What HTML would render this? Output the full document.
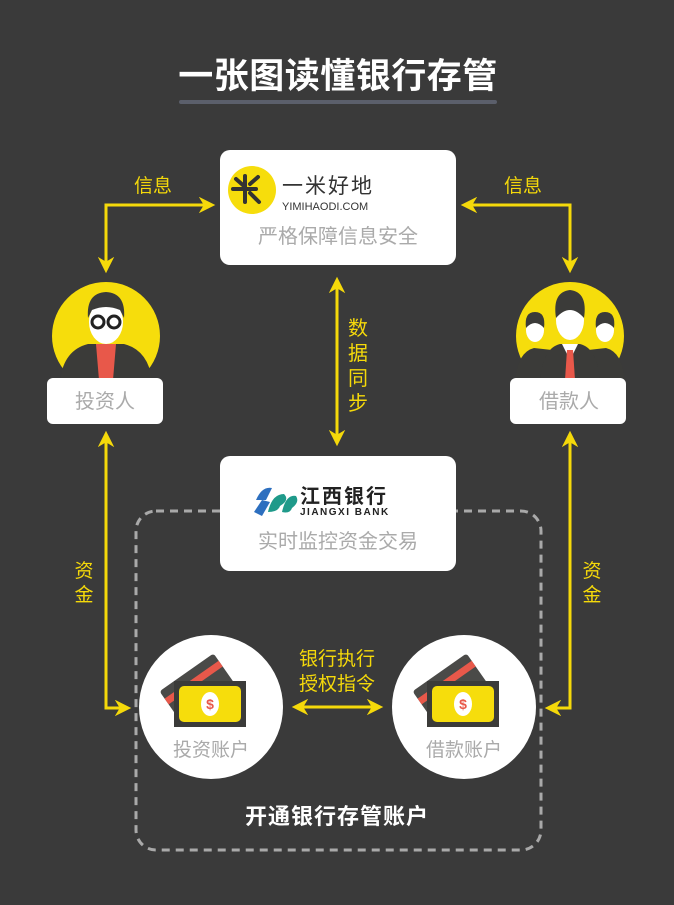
<!DOCTYPE html>
<html><head><meta charset="utf-8"><style>
html,body{margin:0;padding:0;background:#3a3a3a;}
body{width:674px;height:905px;overflow:hidden;position:relative;font-family:"Liberation Sans","Noto Sans CJK SC",sans-serif;}
svg{position:absolute;left:0;top:0}
text{font-family:"Liberation Sans","Noto Sans CJK SC",sans-serif}
</style></head><body>
<svg width="674" height="905" viewBox="0 0 674 905">
<defs>
<marker id="ah" viewBox="0 0 10 10" refX="8" refY="5" markerWidth="5.5" markerHeight="5.5" orient="auto-start-reverse">
<path d="M0,0 L10,5 L0,10 L3,5 Z" fill="#f5d90a"/></marker>
<g id="card">
<g transform="rotate(-35)">
<rect x="-40" y="-24" width="66" height="42" rx="3" fill="#4a4a48"/>
<rect x="-40" y="-15" width="66" height="7" fill="#e8584a"/>
</g>
<rect x="-32" y="-7" width="72" height="46" fill="#3b3b39"/>
<rect x="-27" y="-2" width="62" height="36" rx="5" fill="#f6dd0c"/>
<ellipse cx="4" cy="16" rx="9" ry="12" fill="#fff"/>
<text x="4" y="21" font-size="14" font-weight="bold" fill="#e8584a" text-anchor="middle">$</text>
</g>
</defs>

<text x="338" y="88" font-size="35" font-weight="bold" fill="#fff" text-anchor="middle" letter-spacing="0.5">一张图读懂银行存管</text>
<rect x="179" y="100" width="318" height="4" rx="2" fill="#5b5f6b"/>

<rect x="136" y="511" width="405" height="339" rx="20" fill="none" stroke="#a9a9a9" stroke-width="3" stroke-dasharray="8 6"/>

<rect x="220" y="150" width="236" height="115" rx="10" fill="#fff"/>
<circle cx="252" cy="190" r="24" fill="#f6dd0c"/>
<g stroke="#333" stroke-width="4" stroke-linecap="round">
<line x1="245" y1="176" x2="245" y2="202"/>
<line x1="233" y1="189" x2="256" y2="189"/>
<line x1="236" y1="179" x2="244" y2="186"/>
<line x1="250" y1="193" x2="259" y2="202"/>
<line x1="250" y1="184" x2="258" y2="177"/>
</g>
<text x="282" y="193" font-size="21" fill="#333" letter-spacing="2">一米好地</text>
<text x="282" y="210" font-size="11" fill="#333">YIMIHAODI.COM</text>
<text x="338" y="243" font-size="20" fill="#aaa" text-anchor="middle">严格保障信息安全</text>

<polyline points="106,270 106,205 212,205" fill="none" stroke="#f5d90a" stroke-width="3" marker-start="url(#ah)" marker-end="url(#ah)"/>
<polyline points="570,270 570,205 464,205" fill="none" stroke="#f5d90a" stroke-width="3" marker-start="url(#ah)" marker-end="url(#ah)"/>
<text x="153" y="192" font-size="19" fill="#f5d90a" text-anchor="middle">信息</text>
<text x="523" y="192" font-size="19" fill="#f5d90a" text-anchor="middle">信息</text>

<!-- investor -->
<circle cx="106" cy="336" r="54" fill="#f6dd0c"/>
<path d="M60,380 Q64,350 88,344 L124,344 Q148,350 152,380 Z" fill="#3b3b39"/>
<path d="M96,344 L116,344 L113,380 L99,380 Z" fill="#e8584a"/>
<ellipse cx="106" cy="322" rx="17" ry="22" fill="#fff"/>
<path d="M88,318 Q86,293 106,292 Q126,293 124,318 L120,310 Q106,304 92,310 Z" fill="#3b3b39"/>
<circle cx="98" cy="322" r="6" fill="none" stroke="#222" stroke-width="3"/>
<circle cx="114" cy="322" r="6" fill="none" stroke="#222" stroke-width="3"/>
<rect x="47" y="378" width="116" height="46" rx="6" fill="#fff"/>
<text x="105" y="408" font-size="20" fill="#aaa" text-anchor="middle">投资人</text>

<!-- borrower -->
<circle cx="570" cy="336" r="54" fill="#f6dd0c"/>
<g fill="#3b3b39">
<path d="M515,380 Q518,352 534,348 L552,350 L552,380 Z"/>
<path d="M625,380 Q622,352 606,348 L588,350 L588,380 Z"/>
</g>
<ellipse cx="535" cy="330" rx="9" ry="12" fill="#fff"/>
<path d="M526,328 Q524,312 535,312 Q546,312 544,328 Q535,318 526,328Z" fill="#3b3b39"/>
<ellipse cx="605" cy="330" rx="9" ry="12" fill="#fff"/>
<path d="M596,328 Q594,312 605,312 Q616,312 614,328 Q605,318 596,328Z" fill="#3b3b39"/>
<path d="M540,380 Q543,348 560,344 L580,344 Q597,348 600,380 Z" fill="#3b3b39"/>
<path d="M562,344 L578,344 L570,360Z" fill="#fff"/>
<path d="M567,350 L573,350 L575,380 L565,380Z" fill="#e8584a"/>
<ellipse cx="570" cy="320" rx="14" ry="20" fill="#fff"/>
<path d="M556,318 Q552,292 570,290 Q588,292 584,318 Q570,302 556,318Z" fill="#3b3b39"/>
<rect x="510" y="378" width="116" height="46" rx="6" fill="#fff"/>
<text x="569" y="408" font-size="20" fill="#aaa" text-anchor="middle">借款人</text>

<line x1="337" y1="280" x2="337" y2="443" stroke="#f5d90a" stroke-width="3" marker-start="url(#ah)" marker-end="url(#ah)"/>
<g font-size="20" fill="#f5d90a" text-anchor="middle">
<text x="358" y="335">数</text><text x="358" y="360">据</text><text x="358" y="385">同</text><text x="358" y="410">步</text>
</g>

<rect x="220" y="456" width="236" height="115" rx="10" fill="#fff"/>
<g>
<path d="M256,500 Q262,486 272,488 L266,500 Z" fill="#2d6fbf"/>
<path d="M268,512 Q272,494 284,494 Q290,500 280,506 Q278,512 268,512Z" fill="#1f9a8a"/>
<path d="M282,512 Q286,494 296,496 Q300,502 292,508 Q290,514 282,512Z" fill="#1f9a8a"/>
<path d="M254,512 L262,500 L270,502 L262,516Z" fill="#2d6fbf"/>
</g>
<text x="300" y="503" font-size="20" font-weight="bold" fill="#222" letter-spacing="2" font-family="'Noto Serif CJK SC',serif">江西银行</text>
<text x="300" y="515" font-size="10" font-weight="bold" fill="#222" letter-spacing="1.5" font-family="'Liberation Serif',serif">JIANGXI BANK</text>
<text x="338" y="548" font-size="20" fill="#aaa" text-anchor="middle">实时监控资金交易</text>

<polyline points="106,434 106,708 128,708" fill="none" stroke="#f5d90a" stroke-width="3" marker-start="url(#ah)" marker-end="url(#ah)"/>
<polyline points="570,434 570,708 548,708" fill="none" stroke="#f5d90a" stroke-width="3" marker-start="url(#ah)" marker-end="url(#ah)"/>
<g font-size="19" fill="#f5d90a" text-anchor="middle">
<text x="84" y="577">资</text><text x="84" y="601">金</text>
<text x="592" y="577">资</text><text x="592" y="601">金</text>
</g>

<circle cx="211" cy="707" r="72" fill="#fff"/>
<use href="#card" x="206" y="688"/>
<text x="211" y="756" font-size="19" fill="#aaa" text-anchor="middle">投资账户</text>
<circle cx="464" cy="707" r="72" fill="#fff"/>
<use href="#card" x="459" y="688"/>
<text x="464" y="756" font-size="19" fill="#aaa" text-anchor="middle">借款账户</text>

<line x1="295" y1="707" x2="380" y2="707" stroke="#f5d90a" stroke-width="3" marker-start="url(#ah)" marker-end="url(#ah)"/>
<text x="337" y="665" font-size="19" fill="#f5d90a" text-anchor="middle">银行执行</text>
<text x="337" y="690" font-size="19" fill="#f5d90a" text-anchor="middle">授权指令</text>

<text x="337" y="824" font-size="22" font-weight="bold" fill="#fff" text-anchor="middle" letter-spacing="1">开通银行存管账户</text>
</svg>
</body></html>
